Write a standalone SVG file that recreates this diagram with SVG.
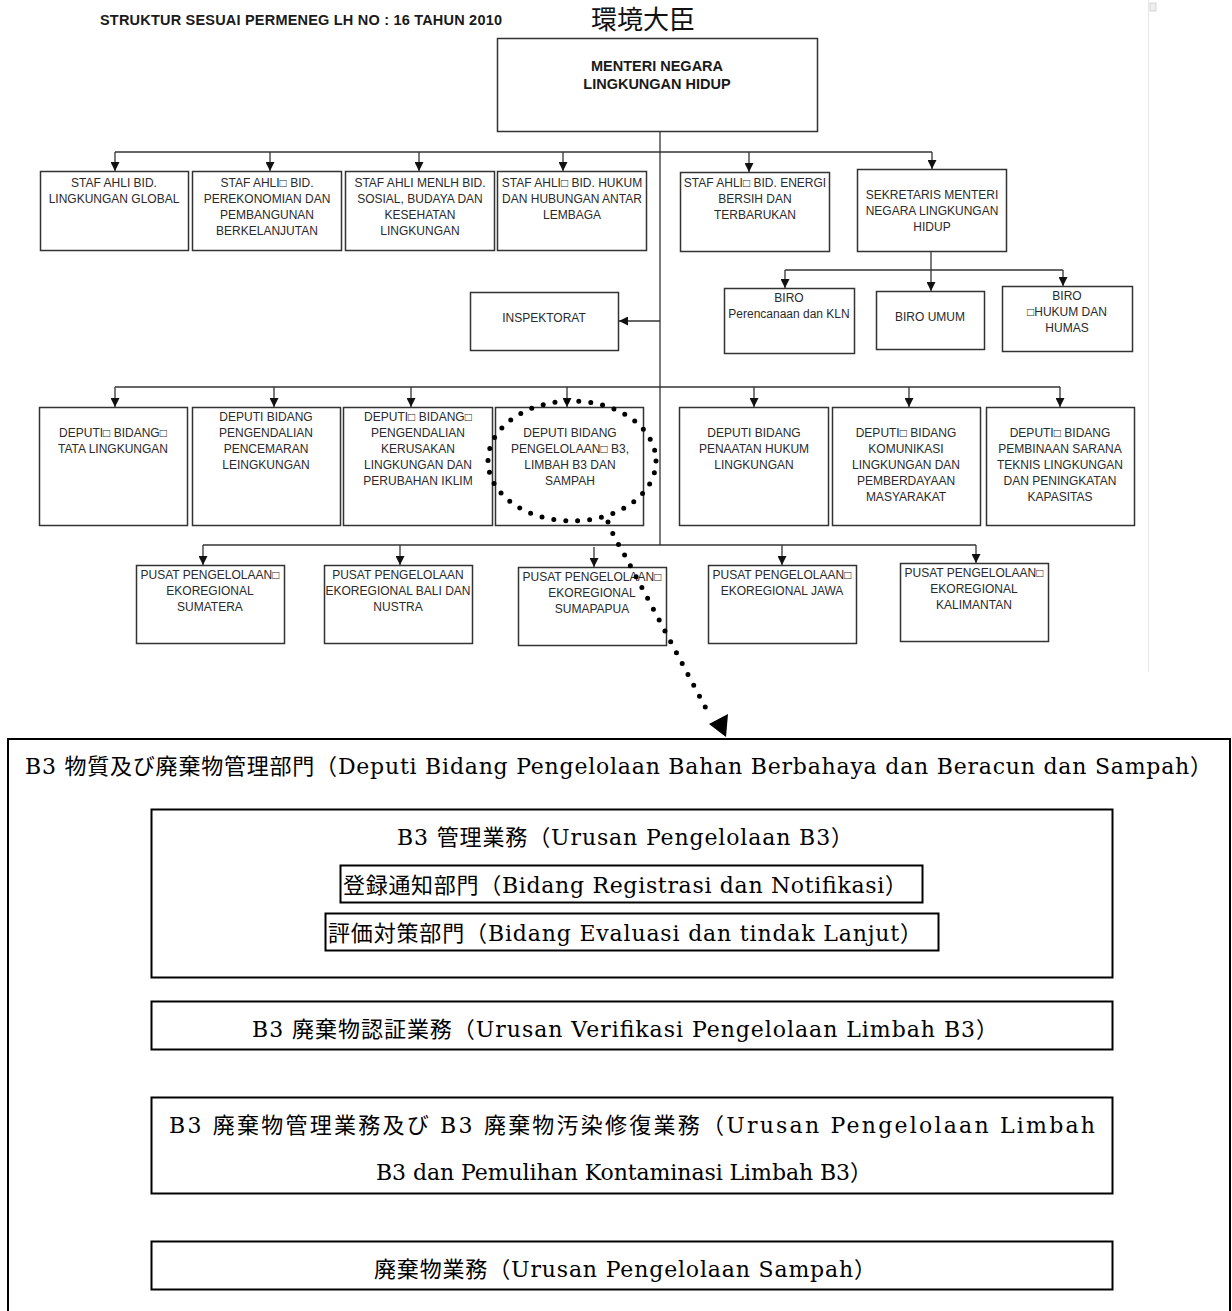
<svg xmlns="http://www.w3.org/2000/svg" width="1232" height="1311" viewBox="0 0 1232 1311">
<style>
.box{fill:#fff;stroke:#333;stroke-width:1.5}
.t{font-family:"Liberation Sans",Arial,sans-serif;font-size:12px;fill:#2a2a2a;text-anchor:middle}
.tb{font-family:"Liberation Sans",Arial,sans-serif;font-weight:bold;fill:#1a1a1a}
.conn{stroke:#333;stroke-width:1.3;fill:none}
.bbox{fill:#fff;stroke:#000;stroke-width:2}
.bt{font-family:"DejaVu Serif","Noto Sans CJK JP",serif;font-size:22px;fill:#000;text-anchor:middle}
.dots{fill:none;stroke:#000;stroke-width:5;stroke-linecap:round}
</style>
<defs>
<marker id="ah" viewBox="0 0 10 10" refX="10" refY="5" markerWidth="9" markerHeight="9" markerUnits="userSpaceOnUse" orient="auto">
<path d="M0,0 L10,5 L0,10 z" fill="#111"/>
</marker>
</defs>
<rect width="1232" height="1311" fill="#fff"/>
<line x1="1148.5" y1="0" x2="1148.5" y2="672" stroke="#e6e6e6" stroke-width="1"/>
<rect x="1150" y="3" width="6" height="8" fill="#eee" stroke="#ccc" stroke-width="0.8"/>

<text class="tb" x="100" y="25" font-size="14.5" textLength="402">STRUKTUR SESUAI PERMENEG LH NO : 16 TAHUN 2010</text>
<text x="643" y="29" font-family="'Noto Sans CJK JP',serif" font-size="26" text-anchor="middle" fill="#111">環境大臣</text>

<g id="connectors">
<line class="conn" x1="660" y1="131" x2="660" y2="545"/>
<line class="conn" x1="115" y1="152" x2="932" y2="152"/>
<line class="conn" x1="115" y1="152" x2="115" y2="171" marker-end="url(#ah)"/>
<line class="conn" x1="270" y1="152" x2="270" y2="171" marker-end="url(#ah)"/>
<line class="conn" x1="419" y1="152" x2="419" y2="171" marker-end="url(#ah)"/>
<line class="conn" x1="563" y1="152" x2="563" y2="171" marker-end="url(#ah)"/>
<line class="conn" x1="749" y1="152" x2="749" y2="172" marker-end="url(#ah)"/>
<line class="conn" x1="932" y1="152" x2="932" y2="169" marker-end="url(#ah)"/>
<line class="conn" x1="931" y1="251" x2="931" y2="291" marker-end="url(#ah)"/>
<line class="conn" x1="785" y1="270" x2="1063" y2="270"/>
<line class="conn" x1="785" y1="270" x2="785" y2="288" marker-end="url(#ah)"/>
<line class="conn" x1="1063" y1="270" x2="1063" y2="286" marker-end="url(#ah)"/>
<line class="conn" x1="660" y1="321" x2="619" y2="321" marker-end="url(#ah)"/>
<line class="conn" x1="115" y1="387" x2="1060" y2="387"/>
<line class="conn" x1="115" y1="387" x2="115" y2="407" marker-end="url(#ah)"/>
<line class="conn" x1="274" y1="387" x2="274" y2="407" marker-end="url(#ah)"/>
<line class="conn" x1="411" y1="387" x2="411" y2="407" marker-end="url(#ah)"/>
<line class="conn" x1="567" y1="387" x2="567" y2="407" marker-end="url(#ah)"/>
<line class="conn" x1="754" y1="387" x2="754" y2="407" marker-end="url(#ah)"/>
<line class="conn" x1="909" y1="387" x2="909" y2="407" marker-end="url(#ah)"/>
<line class="conn" x1="1060" y1="387" x2="1060" y2="407" marker-end="url(#ah)"/>
<line class="conn" x1="203" y1="545" x2="976" y2="545"/>
<line class="conn" x1="203" y1="545" x2="203" y2="565" marker-end="url(#ah)"/>
<line class="conn" x1="400" y1="545" x2="400" y2="565" marker-end="url(#ah)"/>
<line class="conn" x1="594" y1="547" x2="594" y2="567" marker-end="url(#ah)"/>
<line class="conn" x1="782" y1="545" x2="782" y2="565" marker-end="url(#ah)"/>
<line class="conn" x1="976" y1="545" x2="976" y2="563" marker-end="url(#ah)"/>
</g>

<g id="menteri">
<rect class="box" x="497.5" y="38.5" width="320" height="93"/>
<text class="tb" x="657" y="71" font-size="14.5" text-anchor="middle">MENTERI NEGARA</text>
<text class="tb" x="657" y="89" font-size="14.5" text-anchor="middle">LINGKUNGAN HIDUP</text>
</g>

<g id="staf1"><rect class="box" x="40.5" y="171.5" width="148" height="79"/>
<text class="t" x="114" y="187">STAF AHLI BID.</text><text class="t" x="114" y="203">LINGKUNGAN GLOBAL</text></g>
<g id="staf2"><rect class="box" x="192.5" y="171.5" width="149" height="79"/>
<text class="t" x="267" y="187">STAF AHLI□ BID.</text><text class="t" x="267" y="203">PEREKONOMIAN DAN</text><text class="t" x="267" y="219">PEMBANGUNAN</text><text class="t" x="267" y="235">BERKELANJUTAN</text></g>
<g id="staf3"><rect class="box" x="345.5" y="171.5" width="149" height="79"/>
<text class="t" x="420" y="187">STAF AHLI MENLH BID.</text><text class="t" x="420" y="203">SOSIAL, BUDAYA DAN</text><text class="t" x="420" y="219">KESEHATAN</text><text class="t" x="420" y="235">LINGKUNGAN</text></g>
<g id="staf4"><rect class="box" x="497.5" y="171.5" width="149" height="79"/>
<text class="t" x="572" y="187">STAF AHLI□ BID. HUKUM</text><text class="t" x="572" y="203">DAN HUBUNGAN ANTAR</text><text class="t" x="572" y="219">LEMBAGA</text></g>
<g id="staf5"><rect class="box" x="680.5" y="172.5" width="149" height="79"/>
<text class="t" x="755" y="187">STAF AHLI□ BID. ENERGI</text><text class="t" x="755" y="203">BERSIH DAN</text><text class="t" x="755" y="219">TERBARUKAN</text></g>
<g id="sekretaris"><rect class="box" x="857.5" y="169.5" width="149" height="82"/>
<text class="t" x="932" y="199">SEKRETARIS MENTERI</text><text class="t" x="932" y="215">NEGARA LINGKUNGAN</text><text class="t" x="932" y="231">HIDUP</text></g>

<g id="inspektorat"><rect class="box" x="470.5" y="292.5" width="148" height="58"/>
<text class="t" x="544" y="322">INSPEKTORAT</text></g>
<g id="biro1"><rect class="box" x="724.5" y="288.5" width="130" height="65"/>
<text class="t" x="789" y="302">BIRO</text><text class="t" x="789" y="318">Perencanaan dan KLN</text></g>
<g id="biro2"><rect class="box" x="876.5" y="291.5" width="108" height="58"/>
<text class="t" x="930" y="321">BIRO UMUM</text></g>
<g id="biro3"><rect class="box" x="1002.5" y="286.5" width="130" height="65"/>
<text class="t" x="1067" y="300">BIRO</text><text class="t" x="1067" y="316">□HUKUM DAN</text><text class="t" x="1067" y="332">HUMAS</text></g>

<g id="deputi1"><rect class="box" x="39.5" y="407.5" width="148" height="118"/>
<text class="t" x="113" y="437">DEPUTI□ BIDANG□</text><text class="t" x="113" y="453">TATA LINGKUNGAN</text></g>
<g id="deputi2"><rect class="box" x="192.5" y="407.5" width="148" height="118"/>
<text class="t" x="266" y="421">DEPUTI BIDANG</text><text class="t" x="266" y="437">PENGENDALIAN</text><text class="t" x="266" y="453">PENCEMARAN</text><text class="t" x="266" y="469">LEINGKUNGAN</text></g>
<g id="deputi3"><rect class="box" x="343.5" y="407.5" width="149" height="118"/>
<text class="t" x="418" y="421">DEPUTI□ BIDANG□</text><text class="t" x="418" y="437">PENGENDALIAN</text><text class="t" x="418" y="453">KERUSAKAN</text><text class="t" x="418" y="469">LINGKUNGAN DAN</text><text class="t" x="418" y="485">PERUBAHAN IKLIM</text></g>
<g id="deputi4"><rect class="box" x="495.5" y="407.5" width="148" height="118"/>
<text class="t" x="570" y="437">DEPUTI BIDANG</text><text class="t" x="570" y="453">PENGELOLAAN□ B3,</text><text class="t" x="570" y="469">LIMBAH B3 DAN</text><text class="t" x="570" y="485">SAMPAH</text></g>
<g id="deputi5"><rect class="box" x="679.5" y="407.5" width="149" height="118"/>
<text class="t" x="754" y="437">DEPUTI BIDANG</text><text class="t" x="754" y="453">PENAATAN HUKUM</text><text class="t" x="754" y="469">LINGKUNGAN</text></g>
<g id="deputi6"><rect class="box" x="832.5" y="407.5" width="148" height="118"/>
<text class="t" x="906" y="437">DEPUTI□ BIDANG</text><text class="t" x="906" y="453">KOMUNIKASI</text><text class="t" x="906" y="469">LINGKUNGAN DAN</text><text class="t" x="906" y="485">PEMBERDAYAAN</text><text class="t" x="906" y="501">MASYARAKAT</text></g>
<g id="deputi7"><rect class="box" x="986.5" y="407.5" width="148" height="118"/>
<text class="t" x="1060" y="437">DEPUTI□ BIDANG</text><text class="t" x="1060" y="453">PEMBINAAN SARANA</text><text class="t" x="1060" y="469">TEKNIS LINGKUNGAN</text><text class="t" x="1060" y="485">DAN PENINGKATAN</text><text class="t" x="1060" y="501">KAPASITAS</text></g>

<g id="pusat1"><rect class="box" x="136.5" y="565.5" width="148" height="78"/>
<text class="t" x="210" y="579">PUSAT PENGELOLAAN□</text><text class="t" x="210" y="595">EKOREGIONAL</text><text class="t" x="210" y="611">SUMATERA</text></g>
<g id="pusat2"><rect class="box" x="324.5" y="565.5" width="148" height="78"/>
<text class="t" x="398" y="579">PUSAT PENGELOLAAN</text><text class="t" x="398" y="595">EKOREGIONAL BALI DAN</text><text class="t" x="398" y="611">NUSTRA</text></g>
<g id="pusat3"><rect class="box" x="518.5" y="567.5" width="148" height="78"/>
<text class="t" x="592" y="581">PUSAT PENGELOLAAN□</text><text class="t" x="592" y="597">EKOREGIONAL</text><text class="t" x="592" y="613">SUMAPAPUA</text></g>
<g id="pusat4"><rect class="box" x="708.5" y="565.5" width="148" height="78"/>
<text class="t" x="782" y="579">PUSAT PENGELOLAAN□</text><text class="t" x="782" y="595">EKOREGIONAL JAWA</text></g>
<g id="pusat5"><rect class="box" x="900.5" y="563.5" width="148" height="78"/>
<text class="t" x="974" y="577">PUSAT PENGELOLAAN□</text><text class="t" x="974" y="593">EKOREGIONAL</text><text class="t" x="974" y="609">KALIMANTAN</text></g>

<g id="highlight">
<ellipse class="dots" cx="572" cy="461" rx="84" ry="60" stroke-dasharray="0 12"/>
<path class="dots" d="M608,522 Q614,538 622,550 L710,716" stroke-dasharray="0 12.3"/>
<polygon points="709,724 728,714 726,737" fill="#000"/>
</g>

<g id="deputi-b3-detail">
<rect class="bbox" x="8" y="739" width="1222" height="600"/>
<text class="bt" x="618.5" y="774" textLength="1187">B3 物質及び廃棄物管理部門（Deputi Bidang Pengelolaan Bahan Berbahaya dan Beracun dan Sampah）</text>
</g>
<g id="urusan-b3">
<rect class="bbox" x="151.5" y="809.5" width="961" height="168"/>
<text class="bt" x="625" y="845" textLength="456">B3 管理業務（Urusan Pengelolaan B3）</text>
</g>
<g id="bidang-registrasi">
<rect class="bbox" x="340.5" y="865.5" width="582" height="37"/>
<text class="bt" x="625" y="893" textLength="564">登録通知部門（Bidang Registrasi dan Notifikasi）</text>
</g>
<g id="bidang-evaluasi">
<rect class="bbox" x="325.5" y="913.5" width="613" height="37"/>
<text class="bt" x="625" y="941" textLength="594">評価対策部門（Bidang Evaluasi dan tindak Lanjut）</text>
</g>
<g id="urusan-verifikasi">
<rect class="bbox" x="151.5" y="1001.5" width="961" height="48"/>
<text class="bt" x="625" y="1037" textLength="746">B3 廃棄物認証業務（Urusan Verifikasi Pengelolaan Limbah B3）</text>
</g>
<g id="urusan-limbah">
<rect class="bbox" x="151.5" y="1097.5" width="961" height="96"/>
<text class="bt" x="632" y="1133" textLength="926">B3 廃棄物管理業務及び B3 廃棄物汚染修復業務（Urusan Pengelolaan Limbah</text>
<text class="bt" x="624" y="1180" textLength="496">B3 dan Pemulihan Kontaminasi Limbah B3）</text>
</g>
<g id="urusan-sampah">
<rect class="bbox" x="151.5" y="1241.5" width="961" height="48"/>
<text class="bt" x="625" y="1277" textLength="502">廃棄物業務（Urusan Pengelolaan Sampah）</text>
</g>
</svg>
